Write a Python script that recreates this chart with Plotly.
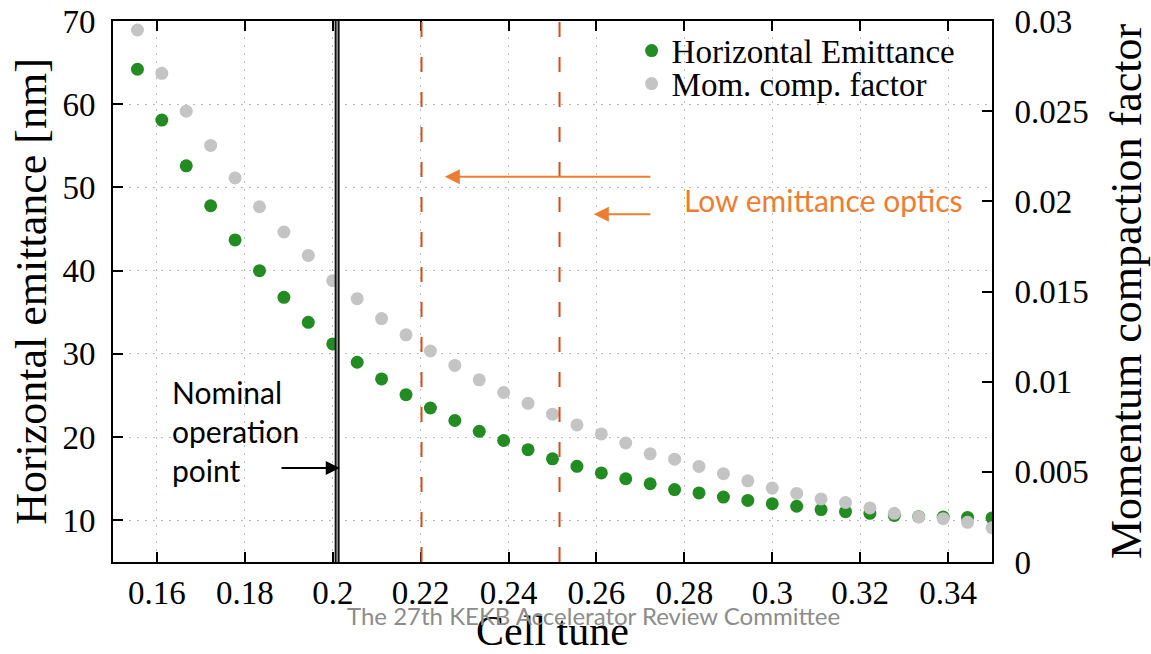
import plotly.graph_objects as go

# ---------------- data ----------------
cell_tune = [0.15556, 0.16111, 0.16667, 0.17222, 0.17778, 0.18333, 0.18889, 0.19444,
             0.20000, 0.20556, 0.21111, 0.21667, 0.22222, 0.22778, 0.23333, 0.23889,
             0.24444, 0.25000, 0.25556, 0.26111, 0.26667, 0.27222, 0.27778, 0.28333,
             0.28889, 0.29444, 0.30000, 0.30556, 0.31111, 0.31667, 0.32222, 0.32778,
             0.33333, 0.33889, 0.34444, 0.35000]

emittance_nm = [64.2, 58.1, 52.6, 47.8, 43.7, 40.0, 36.8, 33.8,
                31.2, 29.0, 27.0, 25.1, 23.5, 22.0, 20.7, 19.6,
                18.5, 17.4, 16.5, 15.7, 15.0, 14.4, 13.7, 13.3,
                12.8, 12.4, 12.0, 11.7, 11.3, 11.05, 10.85, 10.6,
                10.45, 10.4, 10.35, 10.3]

mom_comp_factor = [0.0295, 0.0271, 0.0250, 0.0231, 0.0213, 0.0197, 0.0183, 0.0170,
                   0.0156, 0.0146, 0.0135, 0.0126, 0.0117, 0.0109, 0.0101, 0.0094,
                   0.0088, 0.0082, 0.0076, 0.0071, 0.0066, 0.0060, 0.0057, 0.0053,
                   0.0049, 0.0045, 0.0041, 0.0038, 0.0035, 0.0033, 0.0030, 0.0027,
                   0.0025, 0.0024, 0.0022, 0.0019]

x_tick_vals = [0.16, 0.18, 0.20, 0.22, 0.24, 0.26, 0.28, 0.30, 0.32, 0.34]
x_tick_text = ["0.16", "0.18", "0.2", "0.22", "0.24", "0.26", "0.28", "0.3", "0.32", "0.34"]
y_tick_vals = [10, 20, 30, 40, 50, 60, 70]
y_tick_text = ["10", "20", "30", "40", "50", "60", "70"]
y2_tick_vals = [0, 0.005, 0.01, 0.015, 0.02, 0.025, 0.03]
y2_tick_text = ["0", "0.005", "0.01", "0.015", "0.02", "0.025", "0.03"]

nominal_tune = 0.201
low_emit_tunes = [0.2202, 0.2516]

x_range = [0.15, 0.35]
y_range = [5, 70]
y2_range = [0, 0.03]

# ---------------- figure ----------------
SERIF = "Liberation Serif"
SANS = "Lato"
GREEN = "#228B22"
GRAY = "#C4C4C4"
ORANGE = "#ED7D31"
RED = "#D24E1A"
GRID = "#BDBDBD"

fig = go.Figure()
fig.add_trace(go.Scatter(x=cell_tune, y=emittance_nm, mode="markers",
                         name="Horizontal Emittance", legend="legend",
                         marker=dict(color=GREEN, size=13), yaxis="y"))
fig.add_trace(go.Scatter(x=cell_tune, y=mom_comp_factor, mode="markers",
                         name="Mom. comp. factor", legend="legend2",
                         marker=dict(color=GRAY, size=13), yaxis="y2"))

shapes = []
shapes.append(dict(type="line", xref="x", yref="paper", x0=nominal_tune, x1=nominal_tune,
                   y0=0, y1=1, line=dict(color="#111111", width=5)))
shapes.append(dict(type="line", xref="x", yref="paper", x0=nominal_tune, x1=nominal_tune,
                   y0=0, y1=1, line=dict(color="#9a9a9a", width=1.5)))
for t in low_emit_tunes:
    shapes.append(dict(type="line", xref="x", yref="paper", x0=t, x1=t, y0=0, y1=1,
                       line=dict(color=RED, width=2, dash="15px,20px")))

annotations = [
    dict(x=0.163, y=20.7, xref="x", yref="y", xanchor="left", yanchor="middle",
         text="Nominal<br>operation<br>point", showarrow=False, align="left",
         font=dict(family=SANS, size=30, color="black")),
    dict(x=0.2016, y=16.3, ax=0.188, ay=16.3, xref="x", yref="y", axref="x", ayref="y",
         text="", showarrow=True, arrowhead=2, arrowsize=1.4, arrowwidth=2, arrowcolor="black"),
    dict(x=0.2255, y=51.3, ax=0.2726, ay=51.3, xref="x", yref="y", axref="x", ayref="y",
         text="", showarrow=True, arrowhead=2, arrowsize=1.5, arrowwidth=2, arrowcolor=ORANGE),
    dict(x=0.2594, y=46.77, ax=0.2726, ay=46.77, xref="x", yref="y", axref="x", ayref="y",
         text="", showarrow=True, arrowhead=2, arrowsize=1.5, arrowwidth=2, arrowcolor=ORANGE),
    dict(x=0.2795, y=48.5, xref="x", yref="y", xanchor="left", yanchor="middle",
         text="Low emittance optics", showarrow=False,
         font=dict(family=SANS, size=30, color=ORANGE)),
    dict(x=0.547, y=-0.098, xref="paper", yref="paper", xanchor="center", yanchor="middle",
         text="The 27th KEKB Accelerator Review Committee", showarrow=False,
         font=dict(family=SANS, size=24, color="#8C8C8C")),
]

axis_common = dict(ticks="inside", ticklen=10, tickwidth=2, tickcolor="black",
                   showline=True, linewidth=2, linecolor="black", zeroline=False,
                   automargin=False,
                   tickfont=dict(family=SERIF, size=33, color="black"))

legend_common = dict(xanchor="left", yanchor="top", bgcolor="rgba(0,0,0,0)",
                     font=dict(family=SERIF, size=33, color="black"), itemwidth=30)

fig.update_layout(
    width=1151, height=654,
    margin=dict(l=113, r=159, t=21, b=92, autoexpand=False),
    paper_bgcolor="white", plot_bgcolor="white",
    font=dict(family=SERIF, color="black"),
    showlegend=True,
    legend=dict(x=0.59, y=0.997, **legend_common),
    legend2=dict(x=0.59, y=0.936, **legend_common),
    xaxis=dict(range=x_range, tickvals=x_tick_vals, ticktext=x_tick_text,
               mirror="ticks", showgrid=True, gridcolor=GRID, griddash="2px,6px", gridwidth=1,
               ticklabelstandoff=0,
               title=dict(text="Cell tune", font=dict(family=SERIF, size=42), standoff=11),
               **axis_common),
    yaxis=dict(range=y_range, tickvals=y_tick_vals, ticktext=y_tick_text,
               showgrid=True, gridcolor=GRID, griddash="2px,6px", gridwidth=1,
               ticklabelstandoff=9,
               title=dict(text="Horizontal emittance [nm]", font=dict(family=SERIF, size=44), standoff=2),
               **axis_common),
    yaxis2=dict(range=y2_range, tickvals=y2_tick_vals, ticktext=y2_tick_text,
                overlaying="y", side="right", showgrid=False,
                ticklabelstandoff=14,
                title=dict(text="Momentum compaction factor", font=dict(family=SERIF, size=44), standoff=26),
                **axis_common),
    shapes=shapes,
    annotations=annotations,
)

fig.write_html("out.html")
